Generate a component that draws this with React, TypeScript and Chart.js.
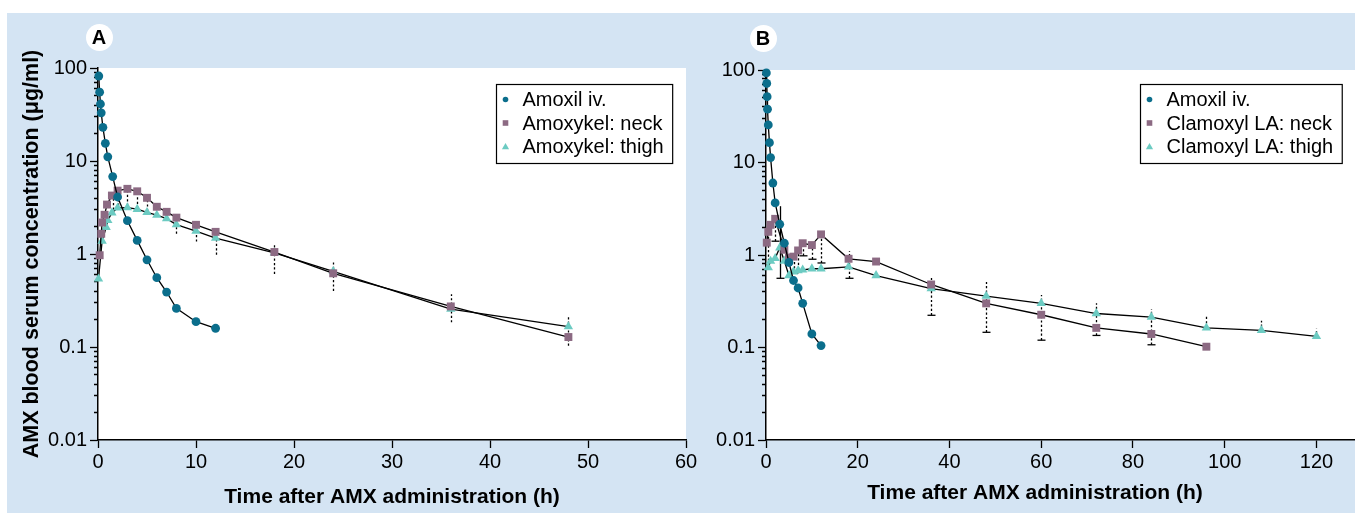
import React, { useEffect, useRef } from 'react';
import { Chart, registerables } from 'chart.js';

Chart.register(...registerables);

const FONT = "'Liberation Sans', Arial, Helvetica, sans-serif";
const TEAL = '#0b6e8c';
const MAUVE = '#8c6a83';
const AQUA = '#6ccbc2';
const BG = '#d4e4f3';

// ---- axis ticks / text ----
const yTickValues = [0.01, 0.1, 1, 10, 100];
const yTickLabels = ['0.01', '0.1', '1', '10', '100'];
const xTicksA = [0, 10, 20, 30, 40, 50, 60];
const xTicksB = [0, 20, 40, 60, 80, 100, 120];
const xTitle = 'Time after AMX administration (h)';
const yTitle = 'AMX blood serum concentration (μg/ml)';
const legendA = ['Amoxil iv.', 'Amoxykel: neck', 'Amoxykel: thigh'];
const legendB = ['Amoxil iv.', 'Clamoxyl LA: neck', 'Clamoxyl LA: thigh'];

// ---- Panel A ----
const timeIvA = [0.083, 0.167, 0.25, 0.33, 0.5, 0.75, 1, 1.5, 2, 3, 4, 5, 6, 7, 8, 10, 12];
const ivA = [82, 55, 41, 33, 23, 15.5, 11.1, 6.8, 4.1, 2.28, 1.4, 0.866, 0.556, 0.39, 0.26, 0.187, 0.159];
const timeNeckA = [0.17, 0.33, 0.42, 0.67, 0.92, 1.42, 2, 3, 4, 5, 6, 7, 8, 10, 12, 18, 24, 36, 48];
const neckA = [0.97, 1.65, 2.18, 2.64, 3.4, 4.25, 4.8, 5.02, 4.72, 4.02, 3.22, 2.84, 2.46, 2.06, 1.73, 1.05, 0.62, 0.273, 0.128];
const timeThighA = [0.05, 0.42, 0.83, 1, 1.42, 2, 3, 4, 5, 6, 7, 8, 10, 12, 18, 24, 36, 48];
const thighA = [0.54, 1.38, 1.94, 2.3, 2.78, 3.13, 3.16, 3.03, 2.8, 2.62, 2.4, 2.07, 1.76, 1.48, 1.03, 0.65, 0.256, 0.166];
const errTimeA = [1.5, 2, 3, 4, 5, 8, 10, 12, 18, 24, 36, 48];
const errLowA = [3.0, 3.3, 3.3, 3.1, 2.9, 1.65, 1.36, 0.98, 0.61, 0.4, 0.184, 0.103];
const errHighA = [4.2, 4.8, 5.0, 4.7, 4.0, 2.46, 2.06, 1.73, 1.29, 0.82, 0.37, 0.21];

// ---- Panel B ----
const timeIvB = [0.083, 0.167, 0.25, 0.33, 0.5, 0.75, 1, 1.5, 2, 3, 4, 5, 6, 7, 8, 10, 12];
const ivB = [93, 71.5, 51.4, 37.7, 25.5, 16.4, 11.3, 6.0, 3.66, 2.15, 1.34, 0.83, 0.53, 0.44, 0.3, 0.14, 0.105];
const timeNeckB = [0.17, 0.5, 1, 2, 4, 5, 6, 7, 8, 10, 12, 18, 24, 36, 48, 60, 72, 84, 96];
const neckB = [1.36, 1.78, 2.12, 2.46, 1.14, 0.94, 0.96, 1.12, 1.34, 1.28, 1.67, 0.91, 0.85, 0.48, 0.3, 0.226, 0.163, 0.14, 0.102];
const timeThighB = [0.5, 1, 2, 3, 4, 5, 6, 7, 8, 10, 12, 18, 24, 36, 48, 60, 72, 84, 96, 108, 120];
const thighB = [0.73, 0.86, 0.92, 1.2, 0.86, 0.6, 0.66, 0.68, 0.69, 0.71, 0.71, 0.745, 0.6, 0.434, 0.36, 0.3, 0.233, 0.213, 0.163, 0.153, 0.132];
const errTimeB = [0.5, 2, 3, 6, 7, 8, 10, 12, 18, 36, 48, 60, 72, 84, 96, 108, 120];
const errLowB = [0.86, 1.41, 0.56, 0.64, 0.7, 0.98, 0.9, 0.82, 0.56, 0.223, 0.146, 0.12, 0.135, 0.107, 0.163, 0.15, 0.128];
const errHighB = [1.6, 2.46, 3.37, 0.91, 1.1, 1.34, 1.25, 1.67, 1.1, 0.567, 0.51, 0.37, 0.3, 0.26, 0.22, 0.195, 0.16];
const errCapB = [0, 1, 1, 1, 0, 1, 1, 1, 1, 1, 1, 1, 1, 1, 0, 0, 0];
const errSolidB = [0, 0, 1, 0, 0, 0, 0, 0, 0, 0, 0, 0, 0, 0, 0, 0, 0];

const styles = [
  { pointStyle: 'circle', pointRadius: 4.4, color: TEAL },
  { pointStyle: 'rect', pointRadius: 5.6, color: MAUVE },
  { pointStyle: 'triangle', pointRadius: 5.4, color: AQUA },
];

function buildYTicks() {
  const out: { value: number }[] = [];
  for (let d = 0; d < yTickValues.length - 1; d++) {
    for (let m = 1; m < 10; m++) out.push({ value: yTickValues[d] * m });
  }
  out.push({ value: yTickValues[yTickValues.length - 1] });
  return out;
}
function majorIndex(v: number) {
  return yTickValues.findIndex((d) => Math.abs(v - d) / d < 1e-6);
}
function yLabel(v: number) {
  const i = majorIndex(v);
  return i >= 0 ? yTickLabels[i] : '';
}
function pts(t: number[], v: number[]) {
  return t.map((x, i) => ({ x, y: v[i] }));
}

type Bars = { t: number[]; lo: number[]; hi: number[]; cap?: number[]; solid?: number[] };

const plotBg = {
  id: 'plotBg',
  beforeDraw(chart: any) {
    const { ctx, chartArea: a } = chart;
    ctx.save();
    ctx.fillStyle = '#fff';
    ctx.fillRect(a.left, a.top, a.right - a.left, a.bottom - a.top);
    ctx.restore();
  },
};

function errBars(b: Bars) {
  return {
    id: 'errBars',
    beforeDatasetsDraw(chart: any) {
      const { ctx } = chart;
      const xs = chart.scales.x;
      const ys = chart.scales.y;
      ctx.save();
      ctx.strokeStyle = '#000';
      ctx.lineWidth = 1.3;
      b.t.forEach((t, i) => {
        const x = Math.round(xs.getPixelForValue(t)) + 0.5;
        const y1 = ys.getPixelForValue(b.lo[i]);
        const y2 = ys.getPixelForValue(b.hi[i]);
        ctx.setLineDash(b.solid && b.solid[i] ? [] : [2.2, 2.2]);
        ctx.beginPath();
        ctx.moveTo(x, y1);
        ctx.lineTo(x, y2);
        ctx.stroke();
        if (b.cap && b.cap[i]) {
          ctx.setLineDash([]);
          ctx.beginPath();
          ctx.moveTo(x - 4, y1);
          ctx.lineTo(x + 4, y1);
          ctx.stroke();
        }
      });
      ctx.restore();
    },
  };
}

function drawMarker(ctx: CanvasRenderingContext2D, kind: string, color: string, x: number, y: number) {
  ctx.fillStyle = color;
  ctx.beginPath();
  if (kind === 'circle') {
    ctx.arc(x, y, 2.8, 0, Math.PI * 2);
  } else if (kind === 'rect') {
    ctx.rect(x - 2.8, y - 2.8, 5.6, 5.6);
  } else {
    ctx.moveTo(x, y - 3.4);
    ctx.lineTo(x + 3.6, y + 2.8);
    ctx.lineTo(x - 3.6, y + 2.8);
    ctx.closePath();
  }
  ctx.fill();
}

function boxLegend(labels: string[], right: number, top: number) {
  return {
    id: 'boxLegend',
    afterDraw(chart: any) {
      const { ctx, chartArea } = chart;
      ctx.save();
      ctx.font = `20px ${FONT}`;
      const tw = Math.max(...labels.map((l) => ctx.measureText(l).width));
      const w = 26 + tw + 9;
      const rowH = 23.5;
      const h = 79;
      const x0 = Math.round(chartArea.right - right - w) + 0.5;
      const y0 = Math.round(chartArea.top + top) + 0.5;
      ctx.fillStyle = '#fff';
      ctx.fillRect(x0, y0, w, h);
      ctx.strokeStyle = '#000';
      ctx.lineWidth = 1.2;
      ctx.strokeRect(x0, y0, w, h);
      labels.forEach((l, i) => {
        const cy = y0 + 15 + rowH * i;
        drawMarker(ctx, styles[i].pointStyle, styles[i].color, x0 + 9, cy);
        ctx.fillStyle = '#000';
        ctx.textBaseline = 'middle';
        ctx.textAlign = 'left';
        ctx.fillText(l, x0 + 26, cy + 1);
      });
      ctx.restore();
    },
  };
}

function freeTitle(text: string, x: number, y: number) {
  return {
    id: 'freeTitle',
    afterDraw(chart: any) {
      const { ctx } = chart;
      ctx.save();
      ctx.font = `bold 21px ${FONT}`;
      ctx.fillStyle = '#000';
      ctx.textAlign = 'center';
      ctx.textBaseline = 'middle';
      ctx.fillText(text, x, y);
      ctx.restore();
    },
  };
}

interface PanelCfg {
  padTop: number;
  padRight: number;
  yW: number;
  xH: number;
  xMax: number;
  xTicks: number[];
  series: { t: number[]; v: number[] }[];
  labels: string[];
  bars: Bars;
  legendRight: number;
  legendTop: number;
  showYTitle: boolean;
  nativeXTitle: boolean;
  titlePos?: { x: number; y: number };
}

function makeChart(canvas: HTMLCanvasElement, cfg: PanelCfg) {
  const extra: any[] = [plotBg, errBars(cfg.bars), boxLegend(cfg.labels, cfg.legendRight, cfg.legendTop)];
  if (cfg.titlePos) extra.push(freeTitle(xTitle, cfg.titlePos.x, cfg.titlePos.y));
  return new Chart(canvas, {
    type: 'line',
    data: {
      datasets: cfg.series.map((s, i) => ({
        label: cfg.labels[i],
        data: pts(s.t, s.v),
        borderColor: '#000',
        borderWidth: 1.3,
        tension: 0,
        fill: false,
        clip: false as any,
        pointStyle: styles[i].pointStyle as any,
        pointRadius: styles[i].pointRadius,
        pointHoverRadius: styles[i].pointRadius,
        pointBackgroundColor: styles[i].color,
        pointBorderColor: styles[i].color,
        pointBorderWidth: 0,
      })),
    },
    options: {
      animation: false,
      responsive: false,
      maintainAspectRatio: false,
      devicePixelRatio: 1,
      events: [],
      layout: { autoPadding: false, padding: { left: 0, top: cfg.padTop, right: cfg.padRight, bottom: 0 } },
      scales: {
        x: {
          type: 'linear',
          min: 0,
          max: cfg.xMax,
          afterBuildTicks: (s: any) => {
            s.ticks = cfg.xTicks.map((value) => ({ value }));
          },
          afterFit: (s: any) => {
            s.height = cfg.xH;
            s.paddingLeft = 0;
            s.paddingRight = 0;
          },
          ticks: { font: { family: FONT, size: 20 }, color: '#000', padding: 2, maxRotation: 0, autoSkip: false },
          grid: { drawOnChartArea: false, drawTicks: true, tickLength: 8, tickColor: '#000', tickWidth: 1.3 },
          border: { display: true, color: '#000', width: 1.5 },
          title: {
            display: cfg.nativeXTitle,
            text: xTitle,
            color: '#000',
            font: { family: FONT, size: 21, weight: 'bold' },
            padding: { top: 0, bottom: 3 },
          },
        },
        y: {
          type: 'logarithmic',
          min: 0.01,
          max: 100,
          afterBuildTicks: (s: any) => {
            s.ticks = buildYTicks();
          },
          afterFit: (s: any) => {
            s.width = cfg.yW;
            s.paddingTop = 0;
            s.paddingBottom = 0;
          },
          ticks: {
            callback: (v: any) => yLabel(Number(v)),
            font: { family: FONT, size: 20 },
            color: '#000',
            padding: 3,
            autoSkip: false,
          },
          grid: {
            drawOnChartArea: false,
            drawTicks: true,
            tickLength: 8,
            tickColor: '#000',
            tickWidth: 1.3,
            tickBorderDash: (c: any) => (c.tick && majorIndex(c.tick.value) >= 0 ? [] : [0, 4, 4, 60]),
          },
          border: { display: true, color: '#000', width: 1.5 },
          title: {
            display: cfg.showYTitle,
            text: yTitle,
            color: '#000',
            font: { family: FONT, size: 21.5, weight: 'bold' },
            padding: { top: 19, bottom: 0 },
          },
        },
      },
      plugins: { legend: { display: false }, tooltip: { enabled: false } },
    } as any,
    plugins: extra,
  });
}

const cfgA: PanelCfg = {
  padTop: 68,
  padRight: 34,
  yW: 98,
  xH: 73,
  xMax: 60,
  xTicks: xTicksA,
  series: [
    { t: timeIvA, v: ivA },
    { t: timeNeckA, v: neckA },
    { t: timeThighA, v: thighA },
  ],
  labels: legendA,
  bars: { t: errTimeA, lo: errLowA, hi: errHighA },
  legendRight: 14,
  legendTop: 16,
  showYTitle: true,
  nativeXTitle: true,
};

const cfgB: PanelCfg = {
  padTop: 70,
  padRight: 0,
  yW: 76,
  xH: 73,
  xMax: 128.4,
  xTicks: xTicksB,
  series: [
    { t: timeIvB, v: ivB },
    { t: timeNeckB, v: neckB },
    { t: timeThighB, v: thighB },
  ],
  labels: legendB,
  bars: { t: errTimeB, lo: errLowB, hi: errHighB, cap: errCapB, solid: errSolidB },
  legendRight: 13,
  legendTop: 14,
  showYTitle: false,
  nativeXTitle: false,
  titlePos: { x: 345, y: 493 },
};

function badge(x: number, y: number): React.CSSProperties {
  return {
    position: 'absolute',
    left: x - 13.5,
    top: y - 13.5,
    width: 27,
    height: 27,
    borderRadius: '50%',
    background: '#fff',
    color: '#000',
    font: `bold 20px ${FONT}`,
    lineHeight: '27px',
    textAlign: 'center',
  };
}

export default function App() {
  const refA = useRef<HTMLCanvasElement>(null);
  const refB = useRef<HTMLCanvasElement>(null);
  useEffect(() => {
    const a = makeChart(refA.current!, cfgA);
    const b = makeChart(refB.current!, cfgB);
    return () => {
      a.destroy();
      b.destroy();
    };
  }, []);
  return (
    <div style={{ position: 'absolute', left: 0, top: 0, width: 1355, height: 513, background: '#fff', overflow: 'hidden' }}>
      <div style={{ position: 'absolute', left: 7, top: 13, right: 0, bottom: 0, background: BG }} />
      <canvas ref={refA} width={720} height={513} style={{ position: 'absolute', left: 0, top: 0, width: 720, height: 513 }} />
      <canvas ref={refB} width={665} height={513} style={{ position: 'absolute', left: 690, top: 0, width: 665, height: 513 }} />
      <div style={badge(99, 37)}>A</div>
      <div style={badge(763, 38)}>B</div>
    </div>
  );
}
